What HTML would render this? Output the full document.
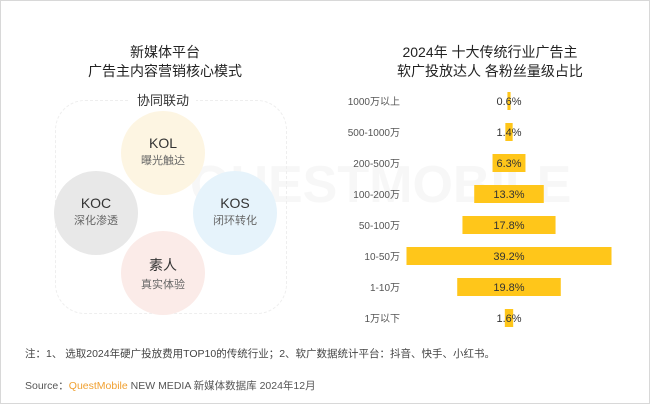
<!DOCTYPE html>
<html><head><meta charset="utf-8"><style>
body{margin:0;width:650px;height:404px;background:#fff;font-family:"Liberation Sans","Noto Sans CJK SC",sans-serif;overflow:hidden}
.t{position:absolute;white-space:nowrap}
</style></head><body>
<div style="position:absolute;left:0;top:0;width:648px;height:402px;border:1px solid #d8d8d8"></div>
<svg width="650" height="404" style="position:absolute;left:0;top:0">
<text x="190" y="202" font-size="52" fill="#f7f7f7" font-family="Liberation Sans" font-weight="bold">QUESTMOBILE</text>
</svg>
<div class="t" style="left:0;width:330px;top:43px;text-align:center;font-size:14px;line-height:19px;color:#222">新媒体平台<br>广告主内容营销核心模式</div>
<div style="position:absolute;left:55px;top:100px;width:230px;height:212px;border:1px dashed #eee;border-radius:30px"></div>
<div class="t" style="left:130px;top:90px;width:66px;background:#fff;text-align:center;font-size:13px;color:#333">协同联动</div>
<svg width="650" height="404" style="position:absolute;left:0;top:0">
<circle cx="163" cy="153" r="42" fill="#fdf5e2"/>
<circle cx="96" cy="213" r="42" fill="#e8e8e8"/>
<circle cx="235" cy="213" r="42" fill="#e6f3fb"/>
<circle cx="163" cy="273" r="42" fill="#fbebe8"/>
</svg>
<div class="t" style="left:123px;width:80px;top:135px;text-align:center;font-size:14px;color:#333">KOL<br><span style="font-size:11px;color:#666">曝光触达</span></div>
<div class="t" style="left:56px;width:80px;top:195px;text-align:center;font-size:14px;color:#333">KOC<br><span style="font-size:11px;color:#666">深化渗透</span></div>
<div class="t" style="left:195px;width:80px;top:195px;text-align:center;font-size:14px;color:#333">KOS<br><span style="font-size:11px;color:#666">闭环转化</span></div>
<div class="t" style="left:123px;width:80px;top:255px;text-align:center;font-size:14px;color:#333">素人<br><span style="font-size:11px;color:#666">真实体验</span></div>
<div class="t" style="left:330px;width:320px;top:43px;text-align:center;font-size:14px;line-height:19px;color:#222">2024年 十大传统行业广告主<br>软广投放达人 各粉丝量级占比</div>
<svg id="chart" width="650" height="404" style="position:absolute;left:0;top:0"></svg>
<div class="t" style="left:25px;top:346px;font-size:10.5px;color:#444">注：1、 选取2024年硬广投放费用TOP10的传统行业；2、软广数据统计平台：抖音、快手、小红书。</div>
<div class="t" style="left:25px;top:378px;font-size:10.5px;color:#555">Source：<span style="color:#f0a030">QuestMobile</span> NEW MEDIA 新媒体数据库 2024年12月</div>
<script>
const categories=["1000万以上","500-1000万","200-500万","100-200万","50-100万","10-50万","1-10万","1万以下"];
const values=[0.6,1.4,6.3,13.3,17.8,39.2,19.8,1.6];
const svg=document.getElementById('chart');const NS="http://www.w3.org/2000/svg";
const cx=509,scale=5.23,y0=101,step=31,bh=18;
const x=v=>v*scale, y=i=>y0+i*step;
categories.forEach((c,i)=>{
 const w=Math.max(x(values[i]),3);
 const r=document.createElementNS(NS,'rect');
 
 
 r.setAttribute('x',cx-w/2);r.setAttribute('y',y(i)-bh/2);r.setAttribute('width',w);r.setAttribute('height',bh);r.setAttribute('fill','#ffc61a');
 svg.appendChild(r);
 const l=document.createElementNS(NS,'text');
 
 
 l.setAttribute('x',400);l.setAttribute('y',y(i)+4);l.setAttribute('text-anchor','end');l.setAttribute('font-size','10');l.setAttribute('fill','#555');l.textContent=c;
 svg.appendChild(l);
 const t=document.createElementNS(NS,'text');
 
 
 t.setAttribute('x',cx);t.setAttribute('y',y(i)+4);t.setAttribute('text-anchor','middle');t.setAttribute('font-size','11');t.setAttribute('fill','#333');t.textContent=values[i]+'%';
 svg.appendChild(t);
});
</script>
</body></html>
